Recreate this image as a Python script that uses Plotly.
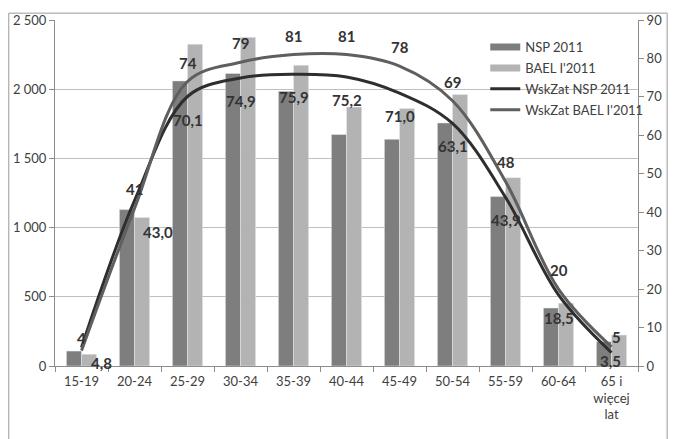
import plotly.graph_objects as go

categories = ["15-19", "20-24", "25-29", "30-34", "35-39", "40-44", "45-49",
              "50-54", "55-59", "60-64", "65 i<br>więcej<br>lat"]
nsp_2011 = [108, 1130, 2060, 2114, 1985, 1673, 1638, 1756, 1224, 419, 176]
bael_2011 = [85, 1073, 2325, 2375, 2173, 1871, 1860, 1961, 1361, 454, 224]
wsk_nsp = [4.8, 43.0, 70.1, 74.9, 75.9, 75.2, 71.0, 63.1, 43.9, 18.5, 3.5]
wsk_bael = [4, 41, 74, 79, 81, 81, 78, 69, 48, 20, 5]
left_ticks = [0, 500, 1000, 1500, 2000, 2500]
right_ticks = [0, 10, 20, 30, 40, 50, 60, 70, 80, 90]

C_NSP = "#7e7e7e"
C_BAEL = "#b3b3b3"
C_LNSP = "#2e2e2e"
C_LBAEL = "#5f5f5f"
TXT = "#404040"
FONT = "Lato"

fig = go.Figure()
fig.add_trace(go.Bar(x=categories, y=nsp_2011, marker_color=C_NSP, showlegend=False,
                     name="NSP 2011"))
fig.add_trace(go.Bar(x=categories, y=bael_2011, marker_color=C_BAEL, showlegend=False,
                     name="BAEL I'2011"))
fig.add_trace(go.Scatter(x=categories, y=wsk_nsp, yaxis="y2", mode="lines",
                         line=dict(color=C_LNSP, width=3, shape="spline", smoothing=1.0),
                         showlegend=False))
fig.add_trace(go.Scatter(x=categories, y=wsk_bael, yaxis="y2", mode="lines",
                         line=dict(color=C_LBAEL, width=3, shape="spline", smoothing=1.0),
                         showlegend=False))

# legend entries
for k, (name, col, w) in enumerate([("NSP 2011", C_NSP, 7), ("BAEL I'2011", C_BAEL, 7),
                                    ("WskZat NSP 2011", C_LNSP, 3),
                                    ("WskZat BAEL I'2011", C_LBAEL, 3)]):
    fig.add_trace(go.Scatter(x=[None], y=[None], mode="lines", name=name,
                             legendgroup=f"g{k}",
                             line=dict(color=col, width=w), yaxis="y2"))

def fmt(v):
    return f"{v:.1f}".replace(".", ",")

ann = []
n = len(categories)
for i, (c, v) in enumerate(zip(categories, wsk_bael)):
    xs, ys = 0, 19
    if i == 0:
        ys = 13
    if i == n - 1:
        xs, ys = 5, 10
    ann.append(dict(x=c, y=v, yref="y2", xref="x", text=f"<b>{v}</b>", showarrow=False,
                    xshift=xs, yshift=ys, font=dict(size=15, color="#333333", family=FONT)))
for i, (c, v) in enumerate(zip(categories, wsk_nsp)):
    xs, ys = 0, -23
    if i == 0:
        xs, ys = 20, -15
    elif i == 1:
        xs, ys = 23, -31
    elif i == n - 1:
        xs, ys = -1, -8
    ann.append(dict(x=c, y=v, yref="y2", xref="x", text=f"<b>{fmt(v)}</b>", showarrow=False,
                    xshift=xs, yshift=ys, font=dict(size=15, color="#333333", family=FONT)))

fig.update_layout(
    width=674, height=439,
    margin=dict(l=55, r=26, t=12, b=73),
    paper_bgcolor="white", plot_bgcolor="white",
    separators=", ",
    barmode="group", bargap=0.43, bargroupgap=0,
    font=dict(family=FONT, size=13, color=TXT),
    xaxis=dict(showline=True, linecolor="#8c8c8c", linewidth=1, ticks="outside",
               tickson="boundaries", ticklen=5, tickcolor="#8c8c8c",
               ticklabelstandoff=3,
               tickfont=dict(size=13, color=TXT), showgrid=False),
    yaxis=dict(range=[0, 2500], tickvals=left_ticks, tickformat=",d",
               showline=True, linecolor="#8c8c8c", ticks="outside", ticklen=5,
               tickcolor="#8c8c8c", showgrid=True, gridcolor="#bfbfbf", gridwidth=1,
               zeroline=False, tickfont=dict(size=13, color=TXT)),
    yaxis2=dict(range=[0, 90], tickvals=right_ticks, overlaying="y", side="right",
                showline=True, linecolor="#8c8c8c", ticks="outside", ticklen=5,
                tickcolor="#8c8c8c", showgrid=False, zeroline=False,
                tickfont=dict(size=13, color=TXT)),
    legend=dict(x=0.738, y=0.965, xanchor="left", yanchor="top",
                bgcolor="rgba(0,0,0,0)", font=dict(size=13, color=TXT),
                itemwidth=30, tracegroupgap=1),
    annotations=ann,
    shapes=[dict(type="rect", xref="paper", yref="paper",
                 x0=-0.0793, x1=1.05, y0=-0.25, y1=1.0198,
                 line=dict(color="#9a9a9a", width=1), layer="below")],
)

fig.write_html("out.html")
